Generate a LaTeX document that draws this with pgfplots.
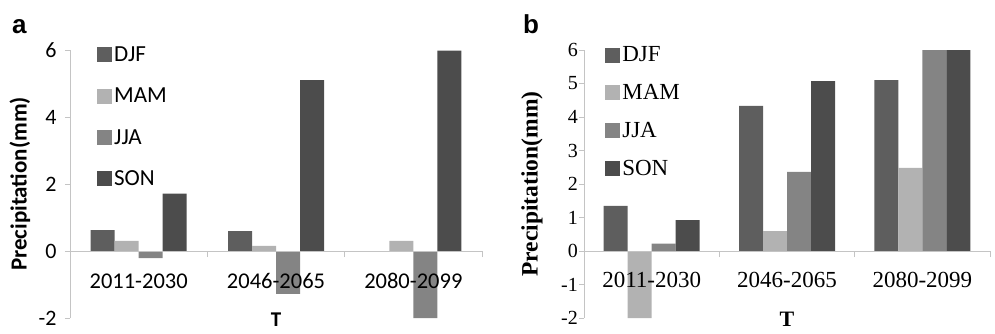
\documentclass[border=0pt]{standalone}
\usepackage{fontspec}
\usepackage{pgfplots}
\pgfplotsset{compat=1.18}
\setmainfont{Liberation Serif}
\newfontfamily\calibri{Carlito}
\newfontfamily\arial{Liberation Sans}

\definecolor{djf}{HTML}{5E5E5E}
\definecolor{mam}{HTML}{B2B2B2}
\definecolor{jja}{HTML}{848484}
\definecolor{son}{HTML}{4C4C4C}
\definecolor{axisgrey}{HTML}{C4C4C4}

\pgfplotsset{
  seasonbars/.style={
    scale only axis,
    axis on top,
    ybar=0pt, bar width=24pt,
    ymin=-2, ymax=6, xmin=-0.5, xmax=2.5,
    height=268pt,
    axis x line*=middle, axis y line*=left,
    axis line style={draw=axisgrey, line width=0.8pt, -},
    hide obscured x ticks=false, hide obscured y ticks=false,
    xtick={0,1,2},
    xticklabels={2011-2030,2046-2065,2080-2099},
    x tick style={draw=none},
    extra x ticks={0.5,1.5,2.5},
    extra x tick labels={},
    extra x tick style={xtick align=outside, major tick length=6pt,
      x tick style={draw=axisgrey, line width=0.8pt}},
    ytick align=outside, major tick length=5pt,
    y tick style={draw=axisgrey, line width=0.8pt},
    /pgf/number format/assume math mode=true,
    legend cell align=left,
    legend image code/.code={\fill[##1] (0pt,-7.5pt) rectangle (15pt,7.5pt);},
    every axis plot/.append style={draw=none},
    clip=false,
  },
}

\begin{document}
\begin{tikzpicture}[x=1pt,y=1pt]
\useasboundingbox (0,0) rectangle (995,333);

% panel a
\node[anchor=base west, inner sep=0] at (12,300) {\arial\bfseries\fontsize{26}{30}\selectfont a};
\begin{axis}[seasonbars,
  at={(70pt,15pt)}, anchor=south west, width=412pt,
  ytick={-2,0,2,4,6},
  yticklabel style={font=\calibri\fontsize{22}{26}\selectfont, xshift=-5pt},
  xticklabel style={font=\calibri\fontsize{22.5}{26}\selectfont, yshift=-14pt},
  ylabel={Precipitation(mm)},
  ylabel style={font=\calibri\bfseries\fontsize{23}{27}\selectfont,
    at={(axis description cs:-0.1214,0.5)}, anchor=center},
  xlabel={T},
  xlabel style={font=\calibri\bfseries\fontsize{21}{25}\selectfont,
    at={(axis description cs:0.5,0)}, anchor=north, inner sep=0pt, yshift=5pt},
  legend style={at={(axis description cs:0.0655,1.02)}, anchor=north west,
    draw=none, fill=none, inner sep=0pt, row sep=21pt,
    font=\calibri\fontsize{23}{27}\selectfont},
]
\addplot[fill=djf] coordinates {(0,0.62) (1,0.59) (2,0)};
\addplot[fill=mam] coordinates {(0,0.30) (1,0.15) (2,0.30)};
\addplot[fill=jja] coordinates {(0,-0.21) (1,-1.28) (2,-2.0)};
\addplot[fill=son] coordinates {(0,1.71) (1,5.10) (2,5.98)};
\legend{DJF,MAM,JJA,SON}
\end{axis}

% panel b
\node[anchor=base west, inner sep=0] at (523,300) {\arial\bfseries\fontsize{26}{30}\selectfont b};
\begin{axis}[seasonbars,
  at={(584pt,15pt)}, anchor=south west, width=406pt,
  ytick={-2,-1,0,1,2,3,4,5,6},
  yticklabel style={font=\rmfamily\fontsize{20}{24}\selectfont, inner sep=1pt},
  xticklabel style={font=\rmfamily\fontsize{23}{27}\selectfont, yshift=-13pt},
  ylabel={Precipitation(mm)},
  ylabel style={font=\rmfamily\bfseries\fontsize{23.5}{28}\selectfont,
    at={(axis description cs:-0.128,0.5)}, anchor=center},
  xlabel={T},
  xlabel style={font=\rmfamily\bfseries\fontsize{22}{26}\selectfont,
    at={(axis description cs:0.5,0)}, anchor=north, inner sep=0pt, yshift=6pt},
  legend style={at={(axis description cs:0.052,1.02)}, anchor=north west,
    draw=none, fill=none, inner sep=0pt, row sep=17pt,
    font=\rmfamily\fontsize{23}{27}\selectfont},
]
\addplot[fill=djf] coordinates {(0,1.35) (1,4.33) (2,5.10)};
\addplot[fill=mam] coordinates {(0,-2.0) (1,0.59) (2,2.48)};
\addplot[fill=jja] coordinates {(0,0.22) (1,2.36) (2,6.0)};
\addplot[fill=son] coordinates {(0,0.92) (1,5.07) (2,6.0)};
\legend{DJF,MAM,JJA,SON}
\end{axis}
\end{tikzpicture}
\end{document}
